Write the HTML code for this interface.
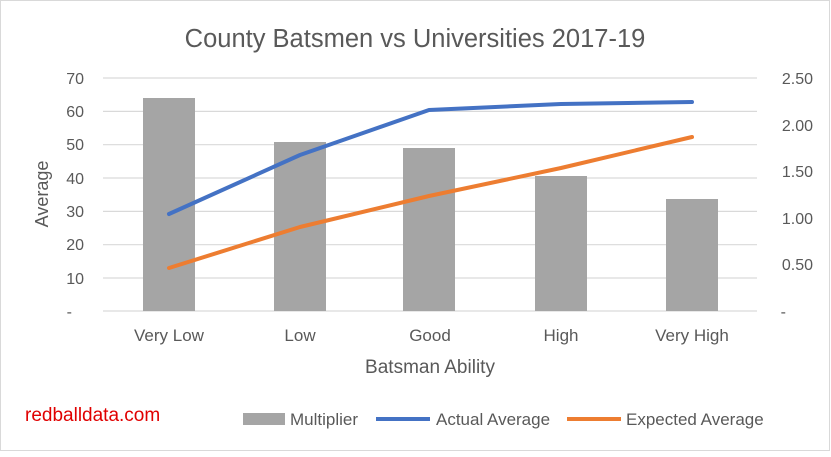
<!DOCTYPE html>
<html><head><style>
body{margin:0;background:#fff}
svg text{font-family:"Liberation Sans",sans-serif;fill:#595959}
</style></head><body>
<svg width="831" height="452" xmlns="http://www.w3.org/2000/svg">
<rect x="0.5" y="0.5" width="829" height="450" fill="#fff" stroke="#d9d9d9"/>
<text x="415" y="47" font-size="25.5" text-anchor="middle">County Batsmen vs Universities 2017-19</text>
<g stroke="#d9d9d9" stroke-width="1.2">
<line x1="103" x2="757" y1="78" y2="78"/><line x1="103" x2="757" y1="111.4" y2="111.4"/>
<line x1="103" x2="757" y1="144.7" y2="144.7"/><line x1="103" x2="757" y1="178" y2="178"/>
<line x1="103" x2="757" y1="211.4" y2="211.4"/><line x1="103" x2="757" y1="244.7" y2="244.7"/>
<line x1="103" x2="757" y1="278" y2="278"/><line x1="103" x2="757" y1="311" y2="311"/>
</g>
<g font-size="16" text-anchor="end">
<text x="84" y="84">70</text><text x="84" y="117">60</text><text x="84" y="150">50</text>
<text x="84" y="184">40</text><text x="84" y="217">30</text><text x="84" y="250">20</text>
<text x="84" y="284">10</text><text x="72" y="317">-</text>
</g>
<g font-size="16" text-anchor="end">
<text x="813" y="84">2.50</text><text x="813" y="131">2.00</text><text x="813" y="177">1.50</text>
<text x="813" y="224">1.00</text><text x="813" y="270">0.50</text><text x="786" y="317">-</text>
</g>
<text transform="translate(48,194) rotate(-90)" font-size="18" text-anchor="middle">Average</text>
<g fill="#a5a5a5">
<rect x="143" y="98" width="52" height="213"/>
<rect x="274" y="142" width="52" height="169"/>
<rect x="403" y="148" width="52" height="163"/>
<rect x="535" y="176" width="52" height="135"/>
<rect x="666" y="199" width="52" height="112"/>
</g>
<polyline points="169,214 300,155 429,110 561,104 692,102" fill="none" stroke="#4472c4" stroke-width="4" stroke-linecap="round" stroke-linejoin="round"/>
<polyline points="169,268 300,227 429,196 561,168 692,137" fill="none" stroke="#ed7d31" stroke-width="4" stroke-linecap="round" stroke-linejoin="round"/>
<g font-size="17" text-anchor="middle">
<text x="169" y="341">Very Low</text><text x="300" y="341">Low</text><text x="430" y="341">Good</text>
<text x="561" y="341">High</text><text x="692" y="341">Very High</text>
</g>
<text x="430" y="373" font-size="19" text-anchor="middle">Batsman Ability</text>
<text x="25" y="421" font-size="19" style="fill:#e00000">redballdata.com</text>
<rect x="243" y="413" width="42" height="12" fill="#a5a5a5"/>
<text x="290" y="425" font-size="17">Multiplier</text>
<line x1="376" x2="430" y1="419" y2="419" stroke="#4472c4" stroke-width="4"/>
<text x="436" y="425" font-size="17">Actual Average</text>
<line x1="567" x2="621" y1="419" y2="419" stroke="#ed7d31" stroke-width="4"/>
<text x="626" y="425" font-size="17">Expected Average</text>
</svg>
</body></html>
